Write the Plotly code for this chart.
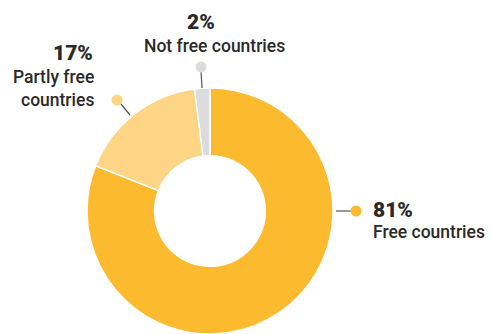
import plotly.graph_objects as go

# Share of countries by freedom status (percent), drawn clockwise from 12 o'clock
categories = ["Free countries", "Partly free countries", "Not free countries"]
shares = [81, 17, 2]
colors = ["#FCBA2F", "#FED585", "#DCDCDE"]

W, H = 491, 334
cx, cy, R = 210, 211, 123  # donut centre and outer radius, px


def px(x):
    return x / W


def py(y):
    return 1 - y / H


fig = go.Figure(
    go.Pie(
        labels=categories,
        values=shares,
        hole=0.45,
        sort=False,
        direction="clockwise",
        rotation=0,
        marker=dict(colors=colors, line=dict(color="white", width=1.5)),
        textinfo="none",
        hoverinfo="label+percent",
        showlegend=False,
        domain=dict(x=[px(cx - R), px(cx + R)], y=[py(cy + R), py(cy - R)]),
    )
)

TXT = "#2A2A2A"
LINE = "#555555"
shapes = []
annotations = []

# callout geometry per category: leader line, dot, and text blocks
callouts = {
    "Not free countries": dict(line=((202, 88), (201, 71)), dot=(201, 67),
                               pct=(201, 22, "center"), lab=[(214, 46)], lab_anchor="center"),
    "Partly free countries": dict(line=((130, 115), (121, 104)), dot=(117, 100),
                                  pct=(95, 53, "right"), lab=[(96, 77), (96, 100)], lab_anchor="right"),
    "Free countries": dict(line=((336, 211), (352, 211)), dot=(356, 211),
                           pct=(371, 210, "left"), lab=[(371, 232)], lab_anchor="left"),
}

for name, share, col in zip(categories, shares, colors):
    c = callouts[name]
    (x0, y0), (x1, y1) = c["line"]
    shapes.append(dict(type="line", xref="paper", yref="paper",
                       x0=px(x0), y0=py(y0), x1=px(x1), y1=py(y1),
                       line=dict(color=LINE, width=1.2)))
    dx, dy = c["dot"]
    r = 5.5
    shapes.append(dict(type="circle", xref="paper", yref="paper",
                       x0=px(dx - r), y0=py(dy + r), x1=px(dx + r), y1=py(dy - r),
                       fillcolor=col, line=dict(width=0)))
    tx, ty, anc = c["pct"]
    annotations.append(dict(x=px(tx), y=py(ty), xref="paper", yref="paper",
                            text=f"{share}%", showarrow=False, xanchor=anc, yanchor="middle",
                            font=dict(family="Roboto", size=21, color=TXT, weight=900)))
    if name == "Partly free countries":
        lines = ["Partly free", "countries"]
    else:
        lines = [name]
    for (lx, ly), t in zip(c["lab"], lines):
        annotations.append(dict(x=px(lx), y=py(ly), xref="paper", yref="paper",
                                text=t, showarrow=False, xanchor=c["lab_anchor"], yanchor="middle",
                                font=dict(family="Roboto", size=17.5, color=TXT, weight=500)))

fig.update_layout(
    width=W, height=H,
    margin=dict(l=0, r=0, t=0, b=0),
    paper_bgcolor="white", plot_bgcolor="white",
    shapes=shapes, annotations=annotations,
)

fig.write_html("out.html")
